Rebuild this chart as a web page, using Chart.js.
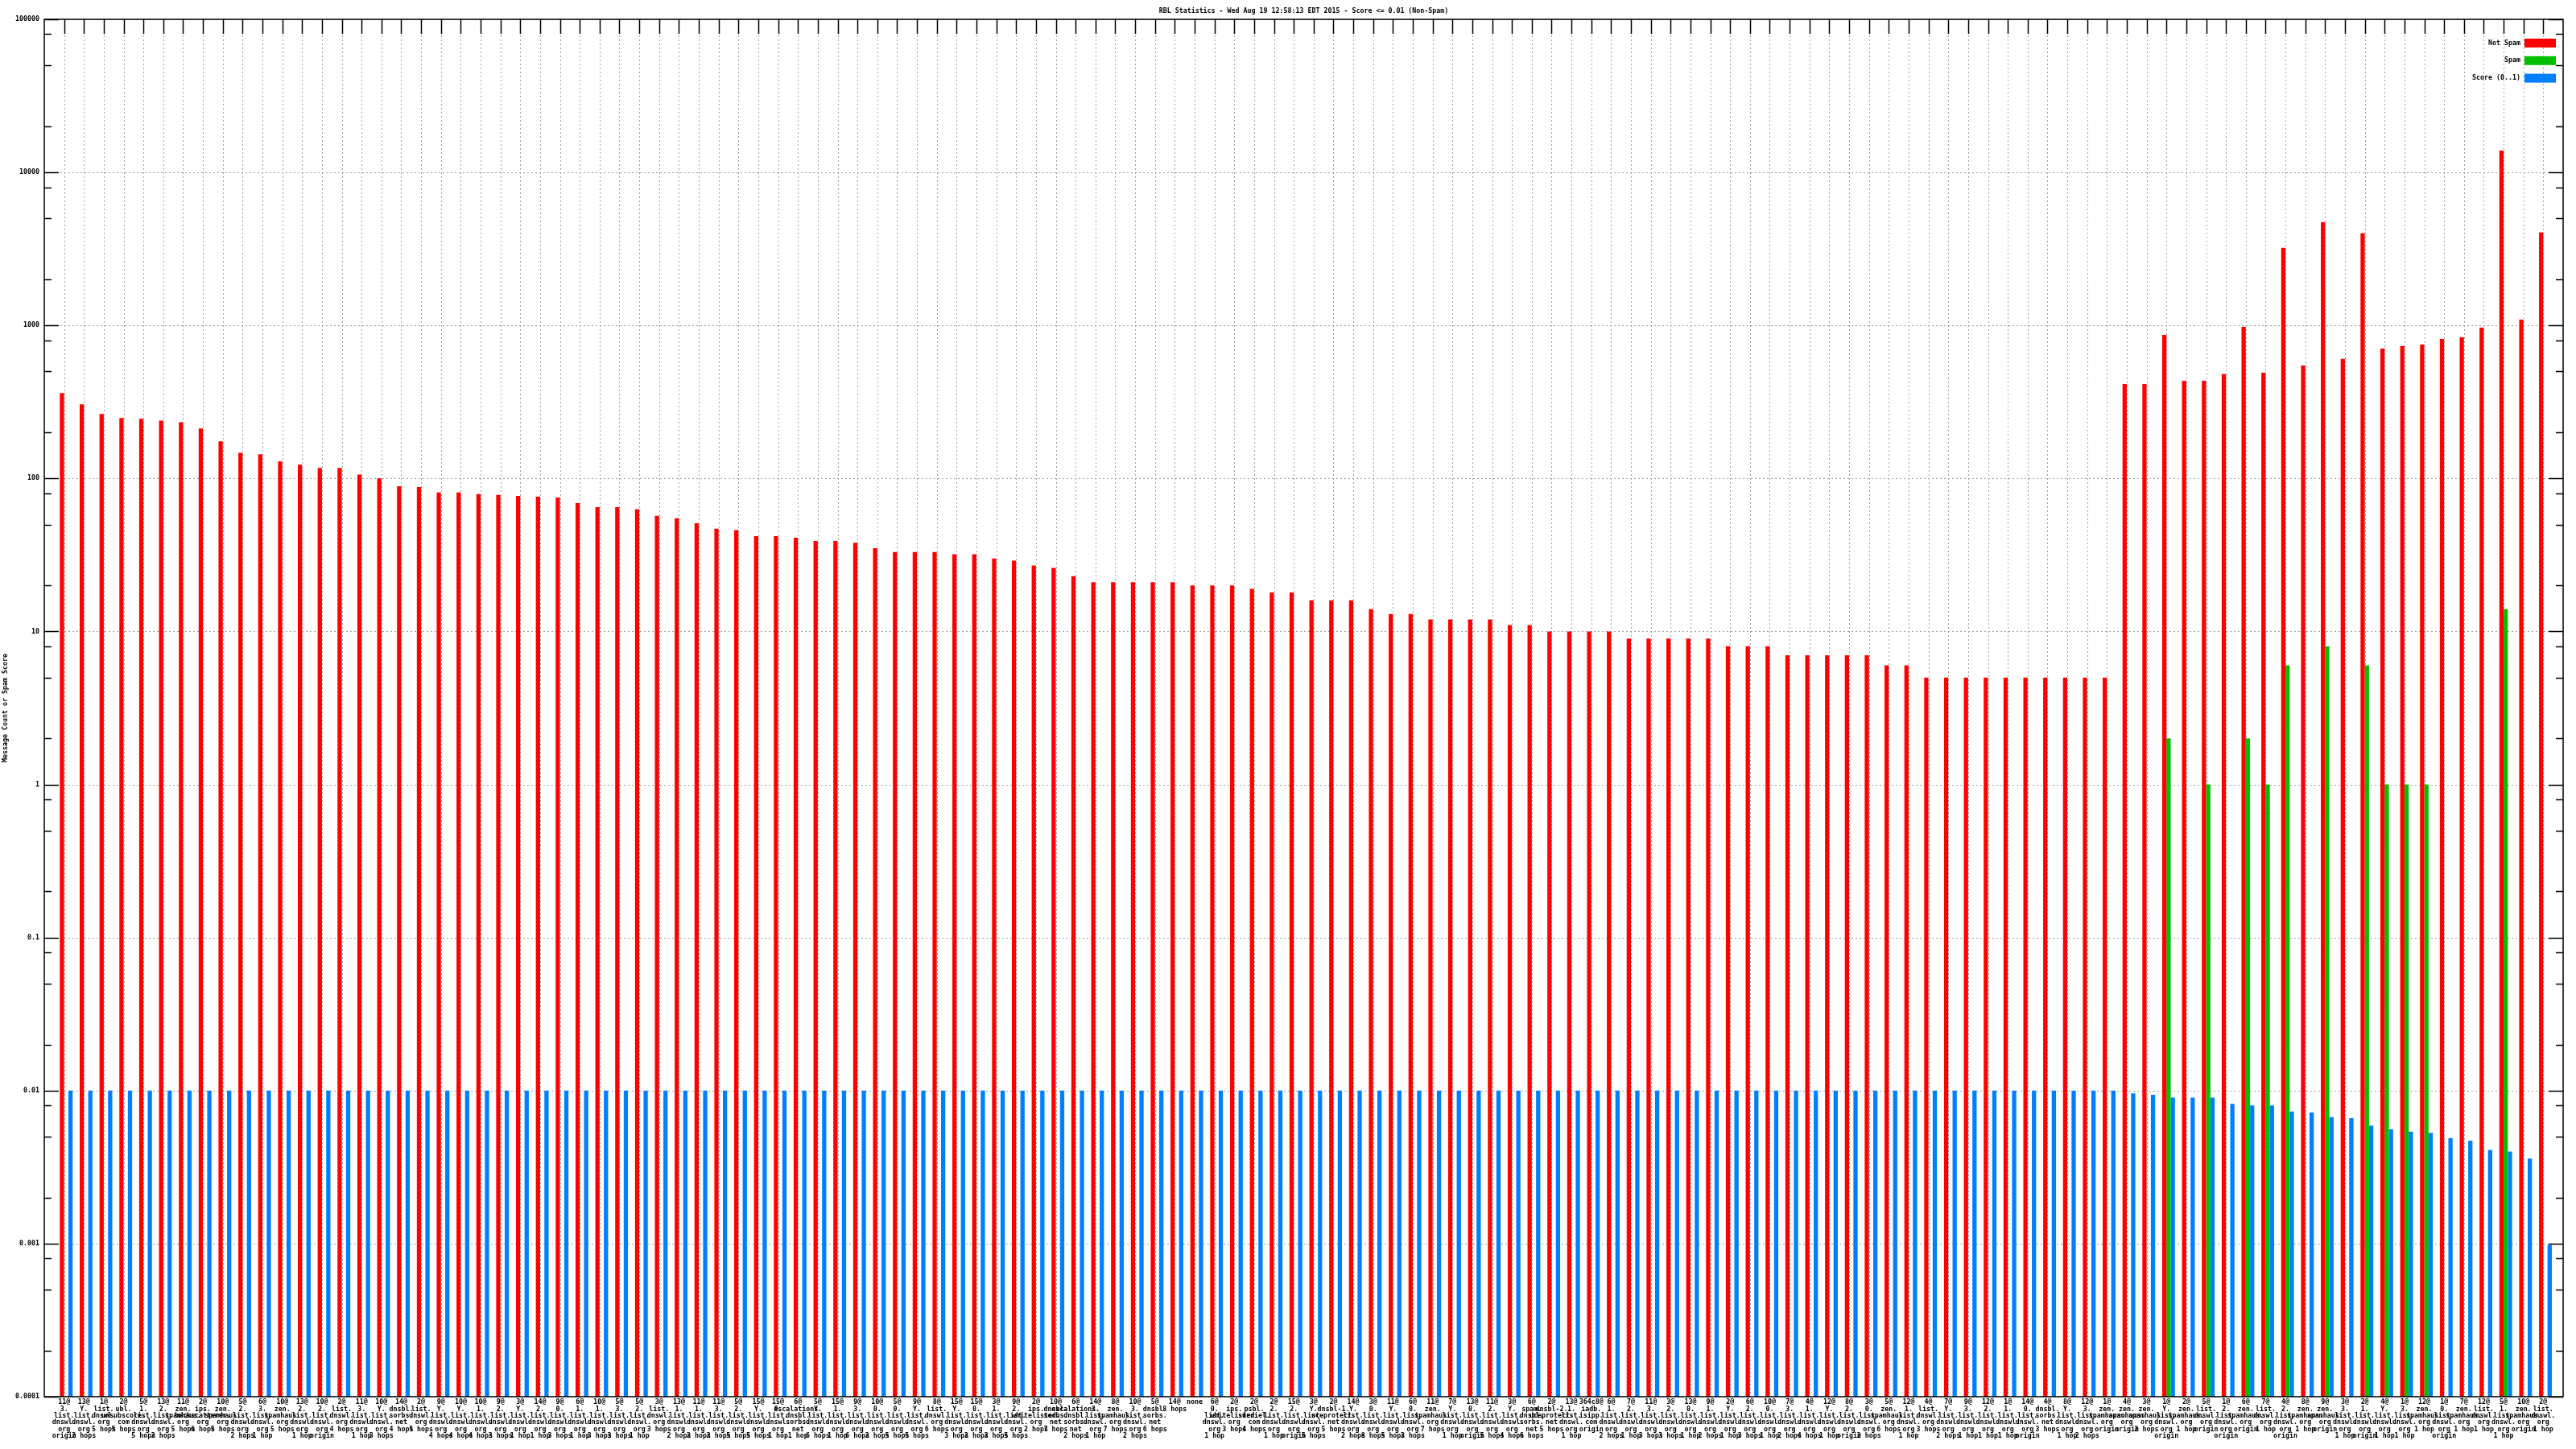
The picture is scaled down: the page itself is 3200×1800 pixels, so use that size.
<!DOCTYPE html>
<html>
<head>
<meta charset="utf-8">
<title>RBL Statistics</title>
<script src="https://cdn.jsdelivr.net/npm/chart.js@4.4.1/dist/chart.umd.min.js"></script>
<style>
  html, body { margin: 0; padding: 0; background: #fff; }
  #wrap { width: 3200px; height: 1800px; }
</style>
</head>
<body>
<div id="wrap"><canvas id="rblChart" width="3200" height="1800"></canvas></div>
<script>
const chartTitle = 'RBL Statistics - Wed Aug 19 12:58:13 EDT 2015 - Score <= 0.01 (Non-Spam)';
const yTitle = 'Message Count or Spam Score';

// one entry per bar group, lines split on '|'
const rblLabels = [
    '11@|3.|list.|dnswl.|org|origin', '13@|Y.|list.|dnswl.|org|2 hops', '1@|list.|dnswl.|org|5 hops',
    '2@|ubl.|unsubscore.|com|5 hops', '5@|1.|list.|dnswl.|org|5 hops', '13@|2.|list.|dnswl.|org|2 hops',
    '11@|zen.|spamhaus.|org|5 hops', '2@|ips.|backscatterer.|org|6 hops', '10@|zen.|spamhaus.|org|5 hops',
    '5@|2.|list.|dnswl.|org|2 hops', '6@|3.|list.|dnswl.|org|1 hop', '10@|zen.|spamhaus.|org|5 hops',
    '13@|2.|list.|dnswl.|org|1 hop', '10@|2.|list.|dnswl.|org|origin', '2@|list.|dnswl.|org|4 hops',
    '11@|3.|list.|dnswl.|org|1 hop', '10@|Y.|list.|dnswl.|org|3 hops', '14@|dnsbl.|sorbs.|net|4 hops',
    '2@|list.|dnswl.|org|5 hops', '9@|Y.|list.|dnswl.|org|4 hops', '10@|Y.|list.|dnswl.|org|4 hops',
    '10@|1.|list.|dnswl.|org|4 hops', '9@|2.|list.|dnswl.|org|3 hops', '3@|Y.|list.|dnswl.|org|1 hop',
    '14@|2.|list.|dnswl.|org|1 hop', '9@|0.|list.|dnswl.|org|3 hops', '6@|1.|list.|dnswl.|org|1 hop',
    '10@|1.|list.|dnswl.|org|3 hops', '5@|3.|list.|dnswl.|org|3 hops', '5@|2.|list.|dnswl.|org|1 hop',
    '3@|list.|dnswl.|org|3 hops', '13@|1.|list.|dnswl.|org|2 hops', '11@|1.|list.|dnswl.|org|2 hops',
    '11@|3.|list.|dnswl.|org|2 hops', '5@|2.|list.|dnswl.|org|5 hops', '15@|Y.|list.|dnswl.|org|5 hops',
    '15@|0.|list.|dnswl.|org|1 hop', '6@|escalations.|dnsbl.|sorbs.|net|1 hop', '5@|Y.|list.|dnswl.|org|6 hops',
    '15@|1.|list.|dnswl.|org|1 hop', '9@|3.|list.|dnswl.|org|6 hops', '10@|0.|list.|dnswl.|org|2 hops',
    '5@|0.|list.|dnswl.|org|5 hops', '9@|Y.|list.|dnswl.|org|5 hops', '8@|list.|dnswl.|org|6 hops',
    '15@|Y.|list.|dnswl.|org|3 hops', '15@|0.|list.|dnswl.|org|2 hops', '3@|1.|list.|dnswl.|org|2 hops',
    '9@|2.|list.|dnswl.|org|5 hops', '2@|ips.|whitelisted.|org|2 hops', '10@|dnsbl.|sorbs.|net|7 hops',
    '6@|escalations.|dnsbl.|sorbs.|net|2 hops', '14@|3.|list.|dnswl.|org|1 hop', '8@|zen.|spamhaus.|org|7 hops',
    '10@|3.|list.|dnswl.|org|2 hops', '5@|dnsbl.|sorbs.|net|6 hops', '14@|8 hops',
    'none', '6@|0.|list.|dnswl.|org|1 hop', '2@|ips.|whitelisted.|org|3 hops',
    '2@|psbl.|surriel.|com|4 hops', '2@|2.|list.|dnswl.|org|1 hop', '15@|2.|list.|dnswl.|org|origin',
    '3@|Y.|list.|dnswl.|org|5 hops', '2@|dnsbl-1.|uceprotect.|net|5 hops', '14@|Y.|list.|dnswl.|org|2 hops',
    '3@|0.|list.|dnswl.|org|8 hops', '11@|Y.|list.|dnswl.|org|5 hops', '6@|0.|list.|dnswl.|org|2 hops',
    '11@|zen.|spamhaus.|org|7 hops', '7@|Y.|list.|dnswl.|org|1 hop', '13@|0.|list.|dnswl.|org|origin',
    '11@|2.|list.|dnswl.|org|5 hops', '3@|Y.|list.|dnswl.|org|4 hops', '6@|spam.|dnsbl.|sorbs.|net|6 hops',
    '2@|dnsbl-2.|uceprotect.|net|5 hops', '13@|1.|list.|dnswl.|org|1 hop', '364c8@|iadb.|isipp.|com|origin',
    '6@|1.|list.|dnswl.|org|2 hops', '7@|2.|list.|dnswl.|org|1 hop', '11@|3.|list.|dnswl.|org|3 hops',
    '3@|2.|list.|dnswl.|org|3 hops', '13@|0.|list.|dnswl.|org|1 hop', '9@|1.|list.|dnswl.|org|2 hops',
    '2@|Y.|list.|dnswl.|org|1 hop', '6@|2.|list.|dnswl.|org|3 hops', '10@|0.|list.|dnswl.|org|1 hop',
    '7@|3.|list.|dnswl.|org|2 hops', '4@|1.|list.|dnswl.|org|4 hops', '12@|Y.|list.|dnswl.|org|1 hop',
    '8@|2.|list.|dnswl.|org|origin', '3@|0.|list.|dnswl.|org|2 hops', '5@|zen.|spamhaus.|org|6 hops',
    '12@|1.|list.|dnswl.|org|1 hop', '4@|list.|dnswl.|org|3 hops', '7@|Y.|list.|dnswl.|org|2 hops',
    '9@|3.|list.|dnswl.|org|1 hop', '12@|2.|list.|dnswl.|org|1 hop', '1@|1.|list.|dnswl.|org|1 hop',
    '14@|0.|list.|dnswl.|org|origin', '4@|dnsbl.|sorbs.|net|3 hops', '8@|Y.|list.|dnswl.|org|1 hop',
    '12@|3.|list.|dnswl.|org|2 hops', '1@|zen.|spamhaus.|org|origin', '4@|zen.|spamhaus.|org|origin',
    '3@|zen.|spamhaus.|org|2 hops', '1@|Y.|list.|dnswl.|org|origin', '2@|zen.|spamhaus.|org|1 hop',
    '5@|list.|dnswl.|org|origin', '1@|2.|list.|dnswl.|org|origin', '6@|zen.|spamhaus.|org|origin',
    '7@|list.|dnswl.|org|1 hop', '4@|2.|list.|dnswl.|org|origin', '8@|zen.|spamhaus.|org|1 hop',
    '9@|zen.|spamhaus.|org|origin', '3@|3.|list.|dnswl.|org|1 hop', '2@|1.|list.|dnswl.|org|origin',
    '4@|Y.|list.|dnswl.|org|1 hop', '1@|3.|list.|dnswl.|org|1 hop', '12@|zen.|spamhaus.|org|1 hop',
    '1@|0.|list.|dnswl.|org|origin', '7@|zen.|spamhaus.|org|1 hop', '12@|list.|dnswl.|org|1 hop',
    '5@|1.|list.|dnswl.|org|1 hop', '10@|zen.|spamhaus.|org|origin', '2@|list.|dnswl.|org|1 hop'
];

const notSpam = [
    361, 305, 264, 248, 245, 239, 233, 212, 175, 147,
    144, 129, 123, 117, 117, 106, 100, 89, 88, 81,
    81, 79, 78, 77, 76, 75, 69, 65, 65, 63,
    57, 55, 51, 47, 46, 42, 42, 41, 39, 39,
    38, 35, 33, 33, 33, 32, 32, 30, 29, 27,
    26, 23, 21, 21, 21, 21, 21, 20, 20, 20,
    19, 18, 18, 16, 16, 16, 14, 13, 13, 12,
    12, 12, 12, 11, 11, 10, 10, 10, 10, 9,
    9, 9, 9, 9, 8, 8, 8, 7, 7, 7,
    7, 7, 6, 6, 5, 5, 5, 5, 5, 5,
    5, 5, 5, 5, 414, 414, 868, 435, 435, 480,
    980, 491, 3214, 548, 4731, 604, 4000, 706, 733, 750,
    817, 837, 968, 13900, 1093, 4045
];

const spam = [
    null, null, null, null, null, null, null, null, null, null,
    null, null, null, null, null, null, null, null, null, null,
    null, null, null, null, null, null, null, null, null, null,
    null, null, null, null, null, null, null, null, null, null,
    null, null, null, null, null, null, null, null, null, null,
    null, null, null, null, null, null, null, null, null, null,
    null, null, null, null, null, null, null, null, null, null,
    null, null, null, null, null, null, null, null, null, null,
    null, null, null, null, null, null, null, null, null, null,
    null, null, null, null, null, null, null, null, null, null,
    null, null, null, null, null, null, 2, null, 1, null,
    2, 1, 6, null, 8, null, 6, 1, 1, 1,
    null, null, null, 14, null, null
];

const score = [
    0.01, 0.01, 0.01, 0.01, 0.01, 0.01, 0.01, 0.01, 0.01, 0.01,
    0.01, 0.01, 0.01, 0.01, 0.01, 0.01, 0.01, 0.01, 0.01, 0.01,
    0.01, 0.01, 0.01, 0.01, 0.01, 0.01, 0.01, 0.01, 0.01, 0.01,
    0.01, 0.01, 0.01, 0.01, 0.01, 0.01, 0.01, 0.01, 0.01, 0.01,
    0.01, 0.01, 0.01, 0.01, 0.01, 0.01, 0.01, 0.01, 0.01, 0.01,
    0.01, 0.01, 0.01, 0.01, 0.01, 0.01, 0.01, 0.01, 0.01, 0.01,
    0.01, 0.01, 0.01, 0.01, 0.01, 0.01, 0.01, 0.01, 0.01, 0.01,
    0.01, 0.01, 0.01, 0.01, 0.01, 0.01, 0.01, 0.01, 0.01, 0.01,
    0.01, 0.01, 0.01, 0.01, 0.01, 0.01, 0.01, 0.01, 0.01, 0.01,
    0.01, 0.01, 0.01, 0.01, 0.01, 0.01, 0.01, 0.01, 0.01, 0.01,
    0.01, 0.01, 0.01, 0.01, 0.0096, 0.0094, 0.009, 0.009, 0.009, 0.0082,
    0.008, 0.008, 0.0073, 0.0072, 0.0067, 0.0066, 0.0059, 0.0056, 0.0054, 0.0053,
    0.0049, 0.0047, 0.0041, 0.004, 0.0036, 0.00098
];

const yDecades = [0.0001, 0.001, 0.01, 0.1, 1, 10, 100, 1000, 10000, 100000];
const yMinor = [2, 5, 8];

const monoFont = { family: '"DejaVu Sans Mono", monospace', size: 8.3, weight: 'bold', lineHeight: 1 };
const fontCss = 'bold 8.3px "DejaVu Sans Mono", monospace';

// gnuplot style frame: grid, inward ticks, title and legend
const gnuplotFrame = {
    id: 'gnuplotFrame',
    beforeDatasetsDraw(chart) {
        const { ctx, chartArea: a, scales: { x, y } } = chart;
        ctx.save();
        ctx.strokeStyle = '#a0a0a0';
        ctx.lineWidth = 1;
        ctx.setLineDash([2, 3]);
        ctx.beginPath();
        x.ticks.forEach(t => {
            const px = Math.round(x.getPixelForValue(t.value)) + 0.5;
            ctx.moveTo(px, a.top);
            ctx.lineTo(px, a.bottom);
        });
        yDecades.forEach(v => {
            const py = Math.round(y.getPixelForValue(v)) + 0.5;
            ctx.moveTo(a.left, py);
            ctx.lineTo(a.right, py);
        });
        ctx.stroke();
        ctx.restore();
    },
    afterDatasetsDraw(chart) {
        const { ctx, chartArea: a, scales: { x, y } } = chart;
        ctx.save();
        ctx.strokeStyle = '#000';
        ctx.lineWidth = 1.5;
        ctx.beginPath();
        yDecades.forEach((v, k) => {
            const py = Math.round(y.getPixelForValue(v)) + 0.5;
            ctx.moveTo(a.left, py); ctx.lineTo(a.left + 18, py);
            ctx.moveTo(a.right, py); ctx.lineTo(a.right - 18, py);
            if (k < yDecades.length - 1) {
                yMinor.forEach(m => {
                    const pm = Math.round(y.getPixelForValue(v * m)) + 0.5;
                    ctx.moveTo(a.left, pm); ctx.lineTo(a.left + 9, pm);
                    ctx.moveTo(a.right, pm); ctx.lineTo(a.right - 9, pm);
                });
            }
        });
        x.ticks.forEach(t => {
            const px = Math.round(x.getPixelForValue(t.value)) + 0.5;
            ctx.moveTo(px, a.top); ctx.lineTo(px, a.top + 18);
        });
        ctx.stroke();
        ctx.strokeRect(a.left, a.top, a.right - a.left, a.bottom - a.top);

        ctx.fillStyle = '#000';
        ctx.font = fontCss;
        ctx.textAlign = 'center';
        ctx.textBaseline = 'middle';
        ctx.fillText(chartTitle, (a.left + a.right) / 2, a.top - 10.5);

        ctx.textAlign = 'right';
        chart.data.datasets.filter(d => d.label).forEach((d, k) => {
            const cy = a.top + 29.5 + k * 21.8;
            ctx.fillStyle = '#000';
            ctx.fillText(d.label, a.right - 53, cy);
            ctx.fillStyle = d.backgroundColor;
            ctx.fillRect(a.right - 48, cy - 5.5, 39, 11);
        });
        ctx.restore();
    }
};

const toPoints = arr => arr.map((v, i) => ({ x: i, y: v }));

const ctx = document.getElementById('rblChart').getContext('2d');
const chart = new Chart(ctx, {
    type: 'bar',
    data: {
        datasets: [
            { label: '', data: toPoints(rblLabels.map(() => null)), backgroundColor: 'rgba(0,0,0,0)' },
            { label: 'Not Spam', data: toPoints(notSpam), backgroundColor: '#ff0000' },
            { label: 'Spam', data: toPoints(spam), backgroundColor: '#00c000' },
            { label: 'Score (0..1)', data: toPoints(score), backgroundColor: '#0080ff' },
        ],
    },
    options: {
        responsive: false,
        animation: false,
        devicePixelRatio: 1,
        events: [],
        layout: { padding: { top: 24, right: 16, left: 0, bottom: 0 } },
        datasets: { bar: { categoryPercentage: 0.86, barPercentage: 1, borderWidth: 0 } },
        plugins: { legend: { display: false }, title: { display: false }, tooltip: { enabled: false } },
        scales: {
            x: {
                type: 'linear',
                min: -1,
                max: rblLabels.length,
                offset: false,
                grid: { display: false, drawTicks: false },
                border: { display: false },
                afterBuildTicks: scale => { scale.ticks = rblLabels.map((_, i) => ({ value: i })); },
                afterFit: scale => { scale.height = 65; },
                ticks: {
                    autoSkip: false,
                    maxRotation: 0,
                    minRotation: 0,
                    padding: 3,
                    color: '#000',
                    font: monoFont,
                    callback: value => (rblLabels[value] !== undefined ? rblLabels[value].split('|') : ''),
                },
            },
            y: {
                type: 'logarithmic',
                min: 0.0001,
                max: 100000,
                grid: { display: false, drawTicks: false },
                border: { display: false },
                afterBuildTicks: scale => { scale.ticks = yDecades.map(v => ({ value: v })); },
                afterFit: scale => { scale.width = 55; },
                ticks: { padding: 6, color: '#000', font: monoFont, callback: value => String(value) },
                title: { display: true, text: yTitle, color: '#000', font: monoFont, padding: { top: 3, bottom: 0 } },
            },
        },
    },
    plugins: [gnuplotFrame],
});
</script>
</body>
</html>
